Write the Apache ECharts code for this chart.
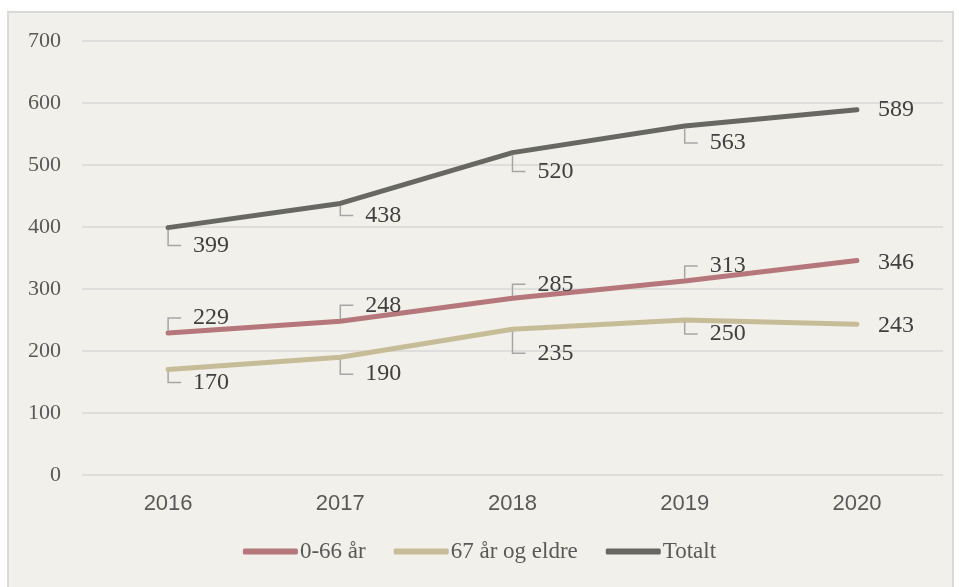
<!DOCTYPE html>
<html>
<head>
<meta charset="utf-8">
<script src="https://cdn.jsdelivr.net/npm/echarts@6/dist/echarts.min.js"></script>
<style>
  html, body { margin: 0; padding: 0; background: #fff; }
  .frame {
    position: absolute; left: 7px; top: 11px; width: 943px; height: 580px;
    background: #f1f0ea; border: 2px solid #d9d9d9;
  }
  #main { position: absolute; left: 0; top: 0; width: 959px; height: 587px; }
</style>
</head>
<body>
<div class="frame"></div>
<div id="main"></div>
<script>
// år
const years = ['2016', '2017', '2018', '2019', '2020']
const young = [229, 248, 285, 313, 346]
const old = [170, 190, 235, 250, 243]
const total = [399, 438, 520, 563, 589]
const yTicks = { min: 0, max: 700, step: 100 }

// vertical label shift from the point, per series
const shiftY = {
  '0-66 år': [-15, -16, -14, -15, 2],
  '67 år og eldre': [13, 17, 24, 14, 1],
  'Totalt': [18, 12, 19, 17, 0]
}

const serif = '"Liberation Serif", "Times New Roman", serif'

function makeSeries(name, data, color) {
  const last = data.length - 1
  return {
    name: name,
    type: 'line',
    data: data.map((v, i) => i === last
      ? { value: v, labelLine: { show: false } }
      : v),
    symbol: 'circle',
    symbolSize: 4,
    lineStyle: { width: 5, color: color, cap: 'round', join: 'round' },
    itemStyle: { color: color },
    label: {
      show: true,
      position: 'right',
      distance: 0,
      formatter: p => (p.dataIndex === last ? '' : '\u2002') + p.value,
      fontFamily: serif,
      fontSize: 24,
      color: '#404040'
    },
    labelLine: {
      show: true,
      length2: 13,
      lineStyle: { color: '#a6a6a6', width: 1.5 }
    },
    labelLayout: function(p) {
      const dy = shiftY[name][p.dataIndex]
      return { dx: p.dataIndex === last ? 19 : 11, dy: dy }
    },
    emphasis: { disabled: true }
  }
}

const myChart = echarts.init(document.getElementById('main'))
const option = {
  animation: false,
  grid: { left: 82, right: 16, top: 41, bottom: 112 },
  legend: {
    bottom: 19,
    left: 'center',
    icon: 'roundRect',
    itemWidth: 55,
    itemHeight: 6,
    itemGap: 28,
    textStyle: { fontFamily: serif, fontSize: 23, color: '#595959', padding: [0, 0, 0, -3] },
    data: ['0-66 år', '67 år og eldre', 'Totalt']
  },
  xAxis: {
    type: 'category',
    data: years,
    axisLine: { show: false },
    axisTick: { show: false },
    axisLabel: {
      fontFamily: '"Liberation Sans", Arial, sans-serif',
      fontSize: 22,
      color: '#595959',
      margin: 18
    }
  },
  yAxis: {
    type: 'value',
    min: yTicks.min,
    max: yTicks.max,
    interval: yTicks.step,
    axisLabel: { fontFamily: serif, fontSize: 22, color: '#595959', margin: 21 },
    splitLine: { lineStyle: { color: '#d9d9d9', width: 1.5 } }
  },
  series: [
    makeSeries('0-66 år', young, '#b5777b'),
    makeSeries('67 år og eldre', old, '#c6bd98'),
    makeSeries('Totalt', total, '#676960')
  ]
}
myChart.setOption(option)
</script>
</body>
</html>
